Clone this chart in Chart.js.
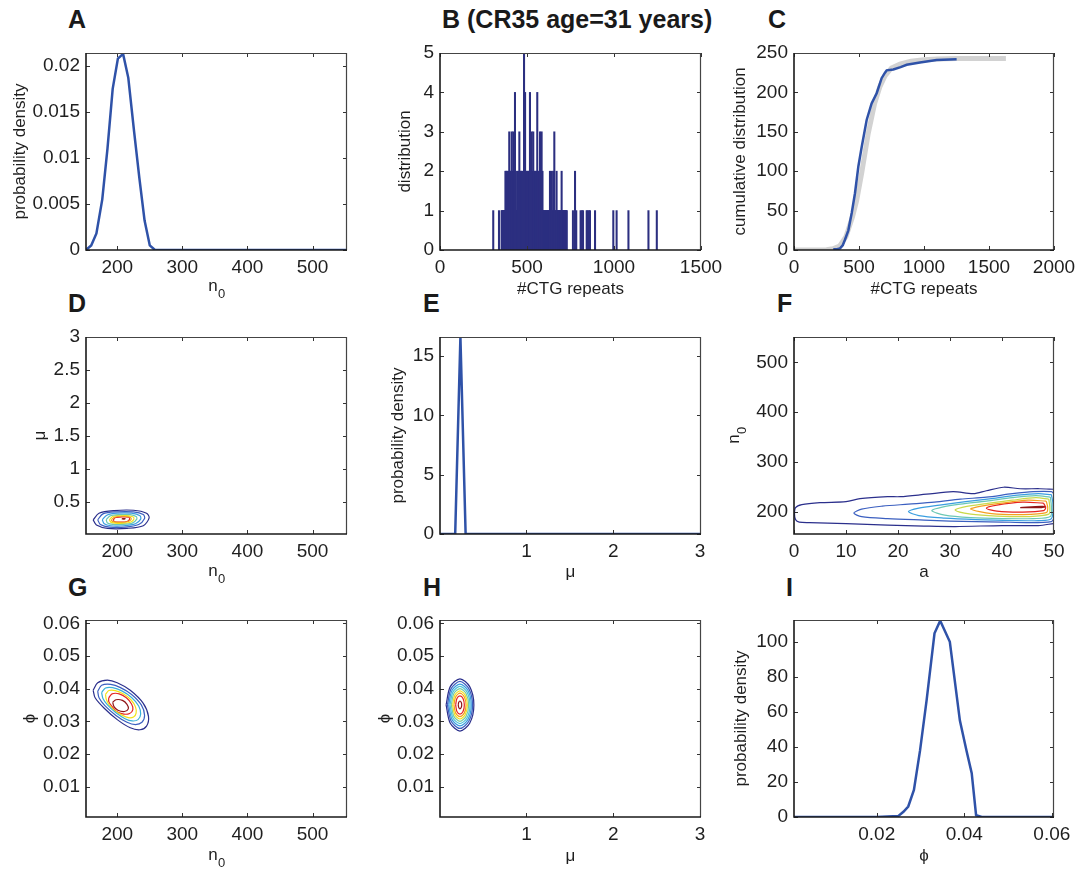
<!DOCTYPE html>
<html>
<head>
<meta charset="utf-8">
<script src="https://cdn.jsdelivr.net/npm/chart.js@4"></script>
<style>
  body { margin: 0; background: #fff; }
  #fig { position: relative; width: 1082px; height: 874px; overflow: hidden; font-family: "Liberation Sans", Arial, sans-serif; }
  .lbl { position: absolute; font-weight: bold; font-size: 25px; line-height: 25px; color: #1a1a1a; white-space: nowrap; }
</style>
</head>
<body>
<div id="fig">
  <div class="lbl" style="left:68px;top:7px">A</div>
  <div class="lbl" style="left:442px;top:7px">B (CR35 age=31 years)</div>
  <div class="lbl" style="left:768px;top:7px">C</div>
  <div class="lbl" style="left:68px;top:291px">D</div>
  <div class="lbl" style="left:423px;top:291px">E</div>
  <div class="lbl" style="left:777px;top:291px">F</div>
  <div class="lbl" style="left:68px;top:575px">G</div>
  <div class="lbl" style="left:423px;top:575px">H</div>
  <div class="lbl" style="left:786px;top:575px">I</div>
</div>
<script>
// ---------- data ----------

// A: posterior density of n0
const n0A = [152, 160, 168, 177, 185, 193, 201, 209, 217, 226, 234, 242, 250, 258, 553];
const densA = [0, 0.0005, 0.0018, 0.0055, 0.011, 0.0175, 0.0208, 0.0213, 0.0187, 0.0128, 0.0078, 0.0032, 0.0005, 0, 0];

// B: histogram of #CTG repeats (repeat value -> count)
const ones = [306, 339, 354, 357, 361, 364, 366, 369, 372, 375, 378, 381, 384, 387, 390, 393, 395, 401, 404, 407, 409,
  415, 418, 424, 427, 434, 437, 440, 443, 446, 449, 452, 459, 462, 465, 468, 471, 474, 477, 480, 486, 492, 495, 498,
  501, 504, 507, 510, 513, 520, 523, 530, 533, 539, 542, 545, 548, 551, 554, 562, 565, 568, 571, 578, 581, 587, 590,
  593, 596, 599, 602, 605, 608, 611, 614, 617, 620, 623, 626, 629, 635, 638, 645, 648, 654, 660, 663, 666, 673, 676,
  679, 682, 685, 688, 691, 694, 702, 705, 708, 711, 714, 717, 720, 723, 726, 728, 764, 783, 808, 815, 822, 843, 848,
  856, 862, 891, 996, 1015, 1083, 1198, 1246];
const twos = [376, 380, 386, 392, 403, 410, 416, 426, 436, 445, 451, 461, 467, 473, 494, 500, 506, 512, 522, 532, 540,
  547, 553, 566, 572, 580, 589, 632, 642, 651, 670, 699, 776];
const threes = [398, 412, 421, 456, 527, 536, 575, 584, 657];
const fours = [431, 489, 517, 559];
const fives = [483];

// C: cumulative distribution (data) and fitted model (grey)
const ctgC = [302, 330, 354, 375, 392, 418, 444, 469, 495, 521, 559, 597, 636, 674, 700, 713, 764, 820, 867, 969, 1097, 1251];
const cumC = [1, 1, 2, 6, 13, 25, 47, 72, 106, 131, 165, 186, 199, 218, 225, 228, 229, 232, 235, 238, 241, 242];
const fitX = [0, 250, 300, 350, 400, 450, 482, 520, 571, 620, 660, 700, 750, 815, 900, 1000, 1100, 1250, 1630];
const fitY = [0, 0.3, 1.5, 5, 17, 42, 63, 97, 148, 186, 207, 221, 231, 236, 239.5, 241.5, 242.5, 243, 243];

// E: posterior density of mu
const muE = [0.005, 0.18, 0.24, 0.30, 3.01];
const densE = [0, 0, 16.6, 0, 0];

// I: posterior density of phi
const phiI = [0.0011, 0.020, 0.0249, 0.0261, 0.0272, 0.0285, 0.0299, 0.0314, 0.0332, 0.0345, 0.0367, 0.039, 0.0405, 0.0417, 0.0427, 0.044, 0.0605];
const densI = [0, 0, 0.5, 3, 6, 15.4, 38, 66.7, 104.8, 112, 100, 55, 38, 25, 1, 0, 0];

// contour colours (jet-like), outer -> inner
const jet8 = ['#2b2f8c', '#3b5fc0', '#3a9ee0', '#6cc8b4', '#f2e21c', '#f5a020', '#e52421', '#8f1517'];
const jet6 = ['#2b2f8c', '#3b5fc0', '#3ab0d8', '#f2e21c', '#e52421', '#8f1517'];
const jet9 = ['#2b2f8c', '#3b5fc0', '#3a9ee0', '#4cc4d8', '#7ccba2', '#f2e21c', '#f5a020', '#e52421', '#8f1517'];
const jetF = ['#2b2f8c', '#3b5fc0', '#3a9ee0', '#6cc8b4', '#c9d94a', '#f5a020', '#e52421', '#8f1517'];

// D: joint posterior (n0, mu)
const contoursD = [
  [[163,0.23],[172,0.33],[195,0.37],[225,0.375],[245,0.33],[249,0.26],[240,0.14],[215,0.10],[185,0.10],[168,0.15],[163,0.23]],
  [[170,0.23],[178,0.32],[198,0.35],[225,0.35],[240,0.31],[242,0.25],[233,0.16],[212,0.12],[188,0.12],[174,0.16],[170,0.23]],
  [[177,0.23],[184,0.30],[200,0.33],[222,0.33],[235,0.29],[236,0.24],[228,0.17],[210,0.14],[190,0.14],[180,0.17],[177,0.23]],
  [[183,0.23],[189,0.29],[203,0.31],[220,0.31],[229,0.28],[230,0.24],[223,0.18],[208,0.16],[193,0.16],[185,0.18],[183,0.23]],
  [[188,0.23],[193,0.28],[205,0.30],[218,0.29],[225,0.27],[225,0.23],[219,0.19],[207,0.175],[196,0.18],[190,0.195],[188,0.23]],
  [[191,0.23],[196,0.27],[207,0.285],[216,0.28],[221,0.26],[221,0.23],[215,0.20],[206,0.19],[197,0.195],[192,0.21],[191,0.23]],
  [[194,0.22],[196,0.26],[208,0.275],[218,0.27],[219,0.24],[215,0.205],[205,0.195],[196,0.20],[194,0.22]],
  [[207,0.245],[212,0.25],[211,0.24],[207,0.245]]
];

// F: joint posterior (a, n0)
const contoursF = [
  [[49.9,245],[47.3,246],[43.5,246],[40.3,249],[37,242],[34.5,236],[30.6,240],[25.5,235],[20.4,230],[18,230],[12.7,226],[10,220],[5,218],[1.5,214],[0.3,208],[0.1,195],[0.3,184],[1,179],[3,178],[10,176],[18,173],[25,171],[31,170],[40,172],[47,172],[49.9,176]],
  [[50,236],[49.5,240],[46,240],[42,236],[37,229],[32,225],[27,219],[22,215],[17,211],[13,205],[11.5,197],[13,190],[18,186],[25,183],[30,181],[35,180],[40,179],[45,178],[49.5,180],[50,186]],
  [[49.5,234],[47,236],[43,233],[38,226],[33,220],[28,213],[24,207],[22,200],[24,192],[29,187],[35,184],[42,182],[47,182],[49.5,186],[49.8,215],[49.5,234]],
  [[49.3,229],[46.5,232],[42,228],[37,221],[32,215],[28.5,209],[26.5,202],[29,193],[34,188],[40,186],[46,186],[49.3,190],[49.5,210],[49.3,229]],
  [[49,225],[46.5,228],[42,223],[37,216],[33,210],[31,203],[34,195],[39,191],[45,190],[49,195],[49.2,208],[49,225]],
  [[48.5,221],[45,223],[40,217],[36,211],[34,205],[38,196],[44,194],[48.5,198],[48.8,208],[48.5,221]],
  [[48,217],[44,219],[39,213],[37,207],[39,201],[44,199],[48,202],[48.4,208],[48,217]],
  [[43.5,208],[47.5,210.5],[48.4,210],[47.6,208.2],[43.5,208]]
];

// G: joint posterior (n0, phi)
const contoursG = [
  [[163,0.0395],[170,0.0418],[185,0.0426],[200,0.0418],[220,0.0395],[240,0.0355],[248,0.0315],[245,0.0285],[235,0.0274],[220,0.0280],[200,0.0305],[180,0.0340],[166,0.0372],[163,0.0395]],
  [[170,0.0392],[176,0.0410],[190,0.0413],[205,0.0403],[222,0.0382],[237,0.0350],[242,0.0318],[238,0.0297],[228,0.0290],[215,0.0297],[198,0.0318],[181,0.0348],[172,0.0372],[170,0.0392]],
  [[176,0.0388],[182,0.0402],[193,0.0403],[207,0.0393],[222,0.0373],[233,0.0347],[236,0.0322],[232,0.0305],[223,0.0301],[212,0.0308],[198,0.0326],[185,0.0350],[178,0.0370],[176,0.0388]],
  [[182,0.0382],[187,0.0394],[197,0.0394],[209,0.0384],[221,0.0366],[228,0.0344],[229,0.0325],[225,0.0313],[217,0.0311],[208,0.0318],[196,0.0333],[187,0.0352],[183,0.0368],[182,0.0382]],
  [[187,0.0372],[192,0.0384],[203,0.0384],[214,0.0372],[222,0.0353],[224,0.0336],[219,0.0324],[210,0.0322],[199,0.0330],[191,0.0348],[187,0.0360],[187,0.0372]],
  [[193,0.0358],[198,0.0366],[208,0.0364],[215,0.0352],[217,0.0338],[211,0.0330],[201,0.0334],[195,0.0345],[193,0.0358]]
];

// H: joint posterior (mu, phi)
const contoursH = [
  [[0.075,0.035],[0.123,0.0406],[0.235,0.043],[0.347,0.0406],[0.395,0.035],[0.347,0.0294],[0.235,0.027],[0.123,0.0294],[0.075,0.035]],
  [[0.09,0.035],[0.1335,0.0400],[0.235,0.0422],[0.3365,0.0400],[0.38,0.035],[0.3365,0.0300],[0.235,0.0278],[0.1335,0.0300],[0.09,0.035]],
  [[0.105,0.035],[0.144,0.0395],[0.235,0.0414],[0.326,0.0395],[0.365,0.035],[0.326,0.0305],[0.235,0.0286],[0.144,0.0305],[0.105,0.035]],
  [[0.12,0.035],[0.1545,0.039],[0.235,0.0407],[0.3155,0.039],[0.35,0.035],[0.3155,0.031],[0.235,0.0293],[0.1545,0.031],[0.12,0.035]],
  [[0.135,0.035],[0.165,0.0385],[0.235,0.040],[0.305,0.0385],[0.335,0.035],[0.305,0.0315],[0.235,0.030],[0.165,0.0315],[0.135,0.035]],
  [[0.15,0.035],[0.1755,0.038],[0.235,0.0393],[0.2945,0.038],[0.32,0.035],[0.2945,0.032],[0.235,0.0307],[0.1755,0.032],[0.15,0.035]],
  [[0.165,0.035],[0.186,0.0375],[0.235,0.0386],[0.284,0.0375],[0.305,0.035],[0.284,0.0325],[0.235,0.0314],[0.186,0.0325],[0.165,0.035]],
  [[0.185,0.035],[0.2,0.037],[0.235,0.0378],[0.27,0.037],[0.285,0.035],[0.27,0.033],[0.235,0.0322],[0.2,0.033],[0.185,0.035]],
  [[0.215,0.035],[0.221,0.0358],[0.235,0.0362],[0.249,0.0358],[0.255,0.035],[0.249,0.0342],[0.235,0.0338],[0.221,0.0342],[0.215,0.035]]
];

// tick values
const ticksN0 = [200, 300, 400, 500];
const ticksA_y = [0, 0.005, 0.01, 0.015, 0.02];
const ticksB_x = [0, 500, 1000, 1500];
const ticksB_y = [0, 1, 2, 3, 4, 5];
const ticksC_x = [0, 500, 1000, 1500, 2000];
const ticksC_y = [0, 50, 100, 150, 200, 250];
const ticksMu = [1, 2, 3];
const ticksD_y = [0.5, 1, 1.5, 2, 2.5, 3];
const ticksE_y = [0, 5, 10, 15];
const ticksF_x = [0, 10, 20, 30, 40, 50];
const ticksF_y = [200, 300, 400, 500];
const ticksPhi = [0.01, 0.02, 0.03, 0.04, 0.05, 0.06];
const ticksI_x = [0.02, 0.04, 0.06];
const ticksI_y = [0, 20, 40, 60, 80, 100];

// ---------- drawing ----------
const fig = document.getElementById("fig");
const FONT = "'Liberation Sans', Arial, sans-serif";
const TXT = "#1f1f1f";
const LINE_BLUE = "#2f52a8";
const TICK_SIZE = 19;
const TITLE_SIZE = 17;
const SUB = "n_0";   // axis title drawn as n with subscript 0

// matlab style box with inward ticks
const framePlugin = {
  id: "frame",
  afterDatasetsDraw(chart) {
    const { ctx, chartArea: a, scales } = chart;
    ctx.save();
    ctx.strokeStyle = "#333";
    ctx.lineWidth = 1;
    ctx.beginPath();
    scales.x.ticks.forEach(t => {
      const px = Math.round(scales.x.getPixelForValue(t.value)) + 0.5;
      ctx.moveTo(px, a.bottom); ctx.lineTo(px, a.bottom - 4);
      ctx.moveTo(px, a.top); ctx.lineTo(px, a.top + 4);
    });
    scales.y.ticks.forEach(t => {
      const py = Math.round(scales.y.getPixelForValue(t.value)) + 0.5;
      ctx.moveTo(a.left, py); ctx.lineTo(a.left + 4, py);
      ctx.moveTo(a.right, py); ctx.lineTo(a.right - 4, py);
    });
    ctx.stroke();
    ctx.strokeStyle = "#444";
    ctx.lineWidth = 1.2;
    ctx.beginPath();
    ctx.moveTo(a.left, a.top + 0.5); ctx.lineTo(a.right, a.top + 0.5);
    ctx.moveTo(a.right - 0.5, a.top); ctx.lineTo(a.right - 0.5, a.bottom);
    ctx.stroke();
    ctx.strokeStyle = "#1a1a1a";
    ctx.lineWidth = 1.6;
    ctx.beginPath();
    ctx.moveTo(a.left, a.top); ctx.lineTo(a.left, a.bottom); ctx.lineTo(a.right, a.bottom);
    ctx.stroke();
    ctx.restore();
  }
};

// draws "n" with a subscript "0" for axis titles chart.js cannot typeset
function drawSub(ctx, cx, cy, rotate) {
  ctx.save();
  ctx.translate(cx, cy);
  if (rotate) ctx.rotate(-Math.PI / 2);
  ctx.fillStyle = TXT;
  ctx.textBaseline = "middle";
  ctx.textAlign = "left";
  ctx.font = `${TITLE_SIZE}px ${FONT}`;
  const w1 = ctx.measureText("n").width;
  ctx.font = `13px ${FONT}`;
  const w2 = ctx.measureText("0").width;
  const x0 = -(w1 + w2) / 2;
  ctx.font = `${TITLE_SIZE}px ${FONT}`;
  ctx.fillText("n", x0, -3);
  ctx.font = `13px ${FONT}`;
  ctx.fillText("0", x0 + w1 + 0.5, 5);
  ctx.restore();
}

const subTitlePlugin = {
  id: "subTitle",
  afterDraw(chart) {
    const { ctx, chartArea: a, scales } = chart;
    const half = TITLE_SIZE * 0.6;
    if (scales.x.options.title.text === SUB) {
      drawSub(ctx, (a.left + a.right) / 2, scales.x.bottom - half, false);
    }
    if (scales.y.options.title.text === SUB) {
      drawSub(ctx, scales.y.left + half, (a.top + a.bottom) / 2, true);
    }
  }
};

function axis(min, max, ticks, title, size, horizontal, pad) {
  return {
    type: "linear",
    min: min,
    max: max,
    offset: false,
    grid: { display: false, drawTicks: false },
    border: { display: false },
    afterBuildTicks: s => { s.ticks = ticks.map(v => ({ value: v })); },
    afterFit: s => {
      if (horizontal) s.height = size; else s.width = size;
      s.paddingLeft = 0; s.paddingRight = 0; s.paddingTop = 0; s.paddingBottom = 0;
    },
    ticks: {
      autoSkip: false, maxRotation: 0, padding: pad,
      color: TXT, font: { family: FONT, size: TICK_SIZE },
      callback: v => String(v)
    },
    title: { display: title !== SUB, text: title, color: TXT, padding: 0, font: { family: FONT, size: TITLE_SIZE, lineHeight: 1.2 } }
  };
}

function panel(p) {
  const half = TITLE_SIZE * 0.6;
  const L = Math.round(p.yt - half);
  const T = p.pt - 12;
  const R = p.pr + 30;
  const B = Math.round(p.xt + half);
  const canvas = document.createElement("canvas");
  canvas.width = R - L;
  canvas.height = B - T;
  canvas.style.cssText = `position:absolute;left:${L}px;top:${T}px;width:${R - L}px;height:${B - T}px;`;
  fig.appendChild(canvas);
  new Chart(canvas, {
    type: p.type || "scatter",
    data: { datasets: p.datasets },
    options: {
      responsive: false,
      maintainAspectRatio: false,
      animation: false,
      events: [],
      layout: { padding: { left: 0, top: p.pt - T, right: R - p.pr, bottom: 0 } },
      plugins: { legend: { display: false }, tooltip: { enabled: false } },
      scales: {
        x: axis(p.x[0], p.x[1], p.xt_, p.xl, B - p.pb, true, 6),
        y: axis(p.y[0], p.y[1], p.yt_, p.yl, p.pl - L, false, 6)
      }
    },
    plugins: [framePlugin, subTitlePlugin]
  });
}

function curve(xs, ys, color, width) {
  return {
    data: xs.map((x, i) => ({ x: x, y: ys[i] })),
    showLine: true, borderColor: color, borderWidth: width, pointRadius: 0, tension: 0
  };
}

function contours(list, colors) {
  return list.map((pts, i) => ({
    data: pts.map(q => ({ x: q[0], y: q[1] })),
    showLine: true, borderColor: colors[i], borderWidth: 1.2, pointRadius: 0, tension: 0.3
  }));
}

function bars(xs, count) {
  return xs.map(x => ({ x: x, y: count }));
}

// A
panel({ pl: 86, pt: 53, pr: 347, pb: 250, yt: 20, xt: 290,
  x: [152, 553], y: [0, 0.0214], xt_: ticksN0, yt_: ticksA_y, xl: SUB, yl: "probability density",
  datasets: [curve(n0A, densA, LINE_BLUE, 2.5)] });

// B
panel({ type: "bar", pl: 440, pt: 53, pr: 701, pb: 250, yt: 405, xt: 290,
  x: [0, 1500], y: [0, 5], xt_: ticksB_x, yt_: ticksB_y, xl: "#CTG repeats", yl: "distribution",
  datasets: [{
    data: [].concat(bars(ones, 1), bars(twos, 2), bars(threes, 3), bars(fours, 4), bars(fives, 5)),
    backgroundColor: "#2c2f80", barThickness: 1.4, grouped: false
  }] });

// C
panel({ pl: 794, pt: 53, pr: 1054, pb: 250, yt: 740, xt: 290,
  x: [0, 2000], y: [0, 250], xt_: ticksC_x, yt_: ticksC_y, xl: "#CTG repeats", yl: "cumulative distribution",
  datasets: [curve(ctgC, cumC, LINE_BLUE, 2.5), curve(fitX, fitY, "#d2d2d2", 5)] });

// D
panel({ pl: 86, pt: 337, pr: 347, pb: 534, yt: 40, xt: 575,
  x: [152, 553], y: [0.015, 3], xt_: ticksN0, yt_: ticksD_y, xl: SUB, yl: "μ",
  datasets: contours(contoursD, jet8) });

// E
panel({ pl: 440, pt: 337, pr: 701, pb: 534, yt: 398, xt: 573,
  x: [0.005, 3.01], y: [0, 16.6], xt_: ticksMu, yt_: ticksE_y, xl: "μ", yl: "probability density",
  datasets: [curve(muE, densE, LINE_BLUE, 2.5)] });

// F
panel({ pl: 794, pt: 337, pr: 1054, pb: 534, yt: 737, xt: 573,
  x: [0, 50], y: [155, 551], xt_: ticksF_x, yt_: ticksF_y, xl: "a", yl: SUB,
  datasets: contours(contoursF, jetF) });

// G
panel({ pl: 86, pt: 620, pr: 347, pb: 817, yt: 30, xt: 859,
  x: [152, 553], y: [0.0007, 0.061], xt_: ticksN0, yt_: ticksPhi, xl: SUB, yl: "ϕ",
  datasets: contours(contoursG, jet6) });

// H
panel({ pl: 440, pt: 620, pr: 701, pb: 817, yt: 385, xt: 857,
  x: [0.005, 3.01], y: [0.0007, 0.061], xt_: ticksMu, yt_: ticksPhi, xl: "μ", yl: "ϕ",
  datasets: contours(contoursH, jet9) });

// I
panel({ pl: 794, pt: 620, pr: 1054, pb: 817, yt: 741, xt: 857,
  x: [0.0011, 0.0605], y: [0, 112.4], xt_: ticksI_x, yt_: ticksI_y, xl: "ϕ", yl: "probability density",
  datasets: [curve(phiI, densI, LINE_BLUE, 2.5)] });
</script>
</body>
</html>
